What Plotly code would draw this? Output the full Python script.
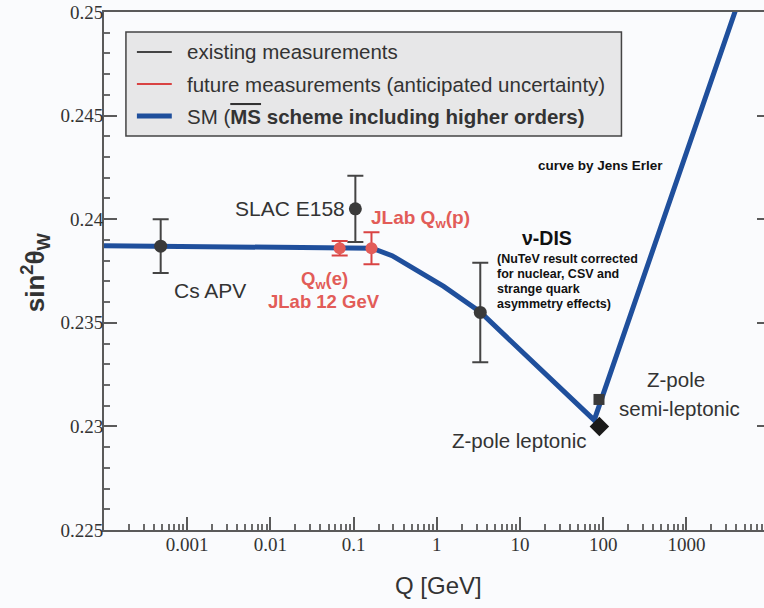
import plotly.graph_objects as go

# ---------------- data ----------------
curve_q = [1e-4, 0.066, 0.167, 0.29, 1.21, 3.33, 78, 3830, 10000]
curve_s = [0.23872, 0.23862, 0.23860, 0.23824, 0.23676, 0.23552, 0.2303, 0.2500, 0.2548]

exist_names = ["Cs APV", "SLAC E158", "ν-DIS"]
exist_q = [0.00048, 0.105, 3.33]
exist_s = [0.2387, 0.2405, 0.2355]
exist_err = [0.0013, 0.0016, 0.0024]

future_names = ["Qw(e) JLab 12 GeV", "JLab Qw(p)"]
future_q = [0.068, 0.164]
future_s = [0.2386, 0.2386]
future_err = [0.00035, 0.00077]

zlep_q = [90.0]
zlep_s = [0.2300]
zsemi_q = [89.0]
zsemi_s = [0.2313]

xtick_vals = [1e-3, 1e-2, 1e-1, 1, 10, 100, 1000]
xtick_text = ["0.001", "0.01", "0.1", "1", "10", "100", "1000"]
ytick_vals = [0.225, 0.23, 0.235, 0.24, 0.245, 0.25]
ytick_text = ["0.225", "0.23", "0.235", "0.24", "0.245", "0.25"]

# ---------------- layout geometry ----------------
# figure is slightly wider than the 764 px window: the right axis sits just outside view
W, H = 772, 608
ML, MR, MT, MB = 104, 0, 12, 78
PW, PH = W - ML - MR, H - MT - MB
PX_PER_DEC = 83.45
x_range = [-4, -4 + PW / PX_PER_DEC]


def px(x):
    return (x - ML) / PW


def py(y):
    return (H - MB - y) / PH


BLUE = "#1f4f9c"
DARK = "#3a3a3a"
RED_M = "#e25c58"
RED_B = "#d94343"
TXT = "#333333"
BG = "#fafbfd"

fig = go.Figure()

fig.add_trace(go.Scatter(x=curve_q, y=curve_s, mode="lines",
                         line=dict(color=BLUE, width=5), showlegend=False,
                         hoverinfo="skip"))

fig.add_trace(go.Scatter(x=exist_q, y=exist_s, mode="markers", text=exist_names,
                         marker=dict(color=DARK, size=13),
                         error_y=dict(type="data", array=exist_err, color="#444444",
                                      thickness=2, width=8),
                         showlegend=False))

fig.add_trace(go.Scatter(x=future_q, y=future_s, mode="markers", text=future_names,
                         marker=dict(color=RED_M, size=12),
                         error_y=dict(type="data", array=future_err, color=RED_B,
                                      thickness=2, width=8),
                         showlegend=False))

fig.add_trace(go.Scatter(x=zsemi_q, y=zsemi_s, mode="markers",
                         marker=dict(color=DARK, size=11, symbol="square"),
                         showlegend=False))
fig.add_trace(go.Scatter(x=zlep_q, y=zlep_s, mode="markers",
                         marker=dict(color="#1a1a1a", size=15, symbol="diamond"),
                         showlegend=False))

# ---------------- legend (manual) ----------------
shapes = [
    dict(type="rect", xref="paper", yref="paper", x0=px(126), x1=px(623),
         y0=py(136), y1=py(32), fillcolor="#e7e7e8", line=dict(color="#444444", width=1.5),
         layer="below"),
    dict(type="line", xref="paper", yref="paper", x0=px(137), x1=px(172),
         y0=py(52), y1=py(52), line=dict(color="#444444", width=2)),
    dict(type="line", xref="paper", yref="paper", x0=px(137), x1=px(172),
         y0=py(84), y1=py(84), line=dict(color=RED_B, width=2)),
    dict(type="line", xref="paper", yref="paper", x0=px(137), x1=px(172),
         y0=py(116), y1=py(116), line=dict(color=BLUE, width=5)),
]

SANS = "Liberation Sans"
ann = []


def text(t, x, y, size, color=TXT, xa="left", ya="middle", bold=False, angle=0):
    if bold:
        t = "<b>" + t + "</b>"
    ann.append(dict(text=t, x=px(x), y=py(y), xref="paper", yref="paper",
                    xanchor=xa, yanchor=ya, showarrow=False, textangle=angle,
                    font=dict(family=SANS, size=size, color=color)))


text("existing measurements", 185, 52, 20.5)
text("future measurements (anticipated uncertainty)", 185, 84, 20.5)
text('SM (<b><span style="text-decoration:overline">MS</span> scheme including higher orders)</b>',
     185, 116, 20.5)

text("Cs APV", 210, 290, 21, xa="center")
text("SLAC E158", 291, 208, 21, xa="center")
text("JLab Q<sub>w</sub>(p)", 421, 219, 19, color=RED_M, xa="center", bold=True)
text("Q<sub>w</sub>(e)", 325, 280, 18.5, color=RED_M, xa="center", bold=True)
text("JLab 12 GeV", 325, 301, 18.5, color=RED_M, xa="center", bold=True)
text("ν-DIS", 548, 238, 19.5, color="#111111", xa="center", bold=True)
for i, line in enumerate(["(NuTeV result corrected", "for nuclear, CSV and",
                          "strange quark", "asymmetry effects)"]):
    text(line, 496, 259 + 15 * i, 12.5, color="#111111", bold=True)
text("curve by Jens Erler", 602, 166, 13.5, color="#111111", xa="center", bold=True)
text("Z-pole leptonic", 520, 440, 20.5, xa="center")
text("Z-pole", 678, 379, 20.5, xa="center")
text("semi-leptonic", 681, 408, 20.5, xa="center")

text("Q [GeV]", 440, 585, 24, xa="center")
text("<b>sin<sup>2</sup>θ<sub>W</sub></b>", 35, 272, 26, xa="center", angle=-90)

minor_x = [m * 10.0 ** d for d in range(-4, 4) for m in range(2, 10)]
minor_y = [0.225 + 0.001 * k for k in range(26)]

axis_common = dict(showgrid=False, zeroline=False, showline=True, linecolor="#5a5a5a",
                   linewidth=2, ticks="inside", ticklen=13, tickwidth=1.5,
                   tickcolor="#5a5a5a",
                   tickfont=dict(family="Liberation Serif", size=19, color=TXT))

fig.update_layout(
    width=W, height=H,
    margin=dict(l=ML, r=MR, t=MT, b=MB),
    paper_bgcolor=BG, plot_bgcolor=BG,
    showlegend=False,
    shapes=shapes,
    annotations=ann,
    xaxis=dict(type="log", range=x_range, tickmode="array", tickvals=xtick_vals,
               ticktext=xtick_text, mirror=True, ticklabelstandoff=-4,
               minor=dict(tickmode="array", tickvals=minor_x, ticks="inside", ticklen=6,
                          tickwidth=1.5, tickcolor="#6a6a6a", showgrid=False),
               **axis_common),
    yaxis=dict(range=[0.225, 0.25], tickmode="array", tickvals=ytick_vals,
               ticktext=ytick_text, mirror="ticks", ticklabelstandoff=-5,
               minor=dict(tickmode="array", tickvals=minor_y, ticks="inside", ticklen=6,
                          tickwidth=1.5, tickcolor="#6a6a6a", showgrid=False),
               **axis_common),
)

fig.write_html(
    "out.html",
    config={"displayModeBar": False},
    post_script="document.body.style.margin='0';document.body.style.overflow='hidden';"
                "document.body.style.background='" + BG + "';",
)
